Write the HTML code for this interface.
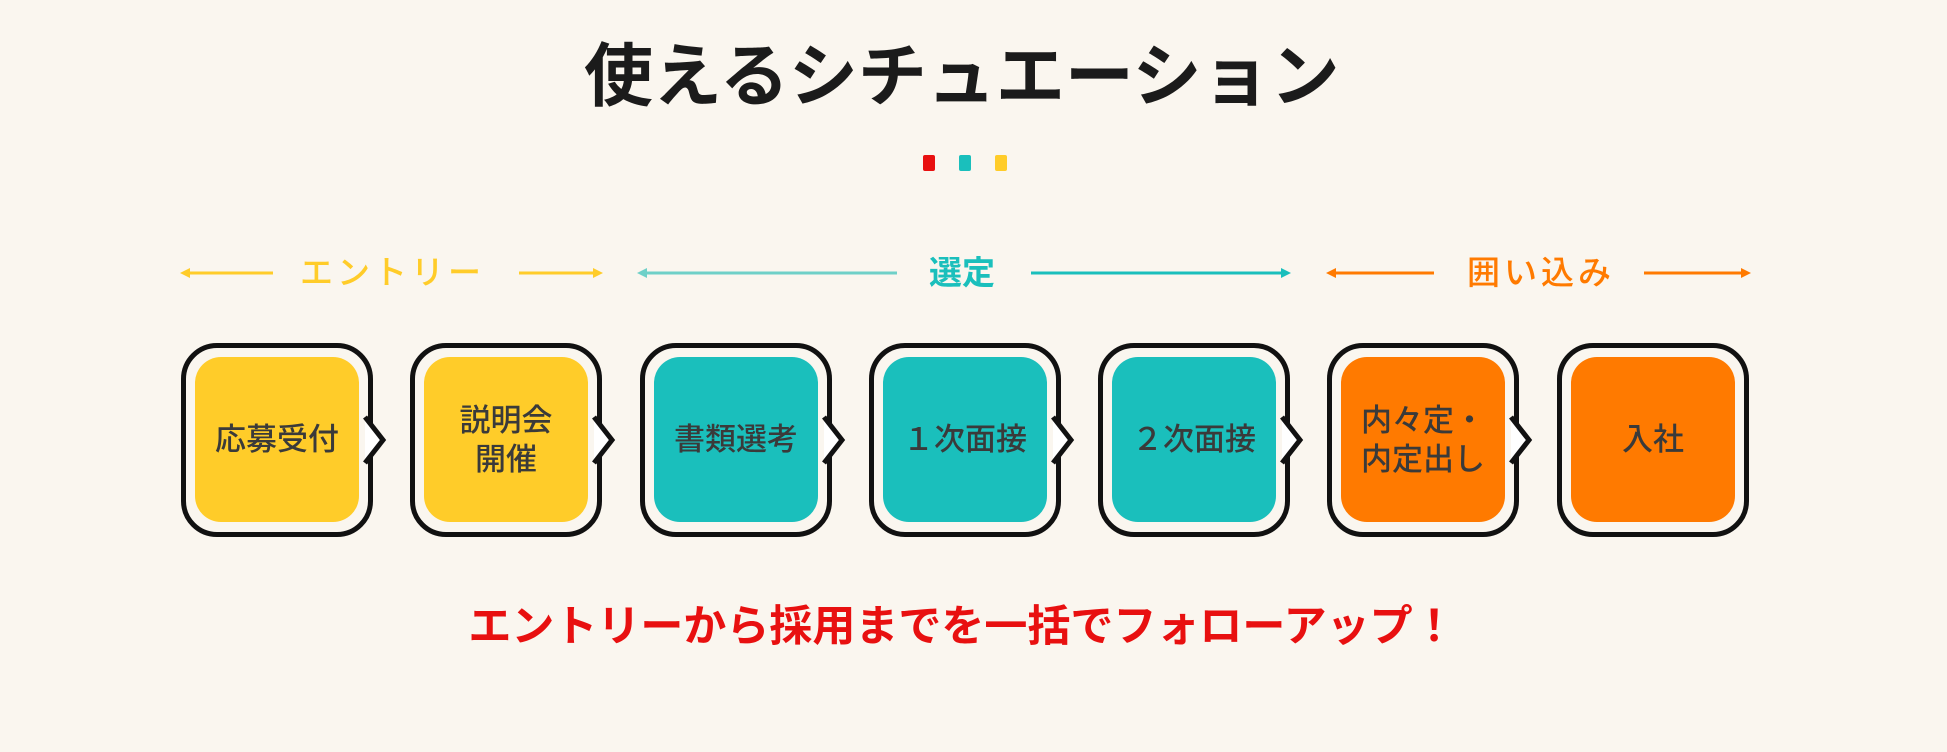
<!DOCTYPE html>
<html><head><meta charset="utf-8"><style>
html,body{margin:0;padding:0;}
body{width:1947px;height:752px;background:#faf6ef;position:relative;overflow:hidden;font-family:"Liberation Sans","Noto Sans CJK JP",sans-serif;}
.t{position:absolute;white-space:nowrap;}
.box{position:absolute;top:343px;width:182px;height:184px;border:5px solid #111;border-radius:36px;background:#faf6ef;}
.in{position:absolute;left:9px;top:9px;width:164px;height:165px;border-radius:26px;display:flex;align-items:center;justify-content:center;text-align:center;font-size:31px;line-height:39px;color:#3a3a3a;font-weight:500;}
.y{background:#ffcc29}.g{background:#1abfbc}.o{background:#ff7a00}
</style></head><body>
<div class="t" style="left:584px;top:34px;width:755px;text-align:center;font-size:69px;font-weight:bold;color:#1b1b1b;line-height:86px;">使えるシチュエーション</div>
<div style="position:absolute;left:923px;top:155px;width:12px;height:16px;background:#e81010;border-radius:2px"></div>
<div style="position:absolute;left:959px;top:155px;width:12px;height:16px;background:#1abfbc;border-radius:2px"></div>
<div style="position:absolute;left:995px;top:155px;width:12px;height:16px;background:#ffcc29;border-radius:2px"></div>

<svg style="position:absolute;left:0;top:0" width="1947" height="752">
<g stroke-width="3" fill="none">
<line x1="186" y1="273" x2="273" y2="273" stroke="#ffcc29"/><polygon points="180,273 190,268 190,278" fill="#ffcc29" stroke="none"/>
<line x1="519" y1="273" x2="597" y2="273" stroke="#ffcc29"/><polygon points="603,273 593,268 593,278" fill="#ffcc29" stroke="none"/>
<line x1="643" y1="273" x2="897" y2="273" stroke="#6fd0c8"/><polygon points="637,273 647,268 647,278" fill="#6fd0c8" stroke="none"/>
<line x1="1031" y1="273" x2="1285" y2="273" stroke="#1abfbc"/><polygon points="1291,273 1281,268 1281,278" fill="#1abfbc" stroke="none"/>
<line x1="1332" y1="273" x2="1434" y2="273" stroke="#ff7a00"/><polygon points="1326,273 1336,268 1336,278" fill="#ff7a00" stroke="none"/>
<line x1="1644" y1="273" x2="1745" y2="273" stroke="#ff7a00"/><polygon points="1751,273 1741,268 1741,278" fill="#ff7a00" stroke="none"/>
</g>
</svg>
<div class="t" style="left:300px;top:253px;font-size:33px;color:#ffcc29;line-height:40px;font-weight:500;letter-spacing:4px">エントリー</div>
<div class="t" style="left:929px;top:253px;font-size:33px;color:#1abfbc;line-height:40px;font-weight:bold">選定</div>
<div class="t" style="left:1467px;top:253px;font-size:33px;color:#ff7a00;line-height:40px;font-weight:500;letter-spacing:4px">囲い込み</div>

<div class="box" style="left:181px"><div class="in y">応募受付</div></div>
<div class="box" style="left:410px"><div class="in y">説明会<br>開催</div></div>
<div class="box" style="left:640px"><div class="in g">書類選考</div></div>
<div class="box" style="left:869px"><div class="in g">１次面接</div></div>
<div class="box" style="left:1098px"><div class="in g">２次面接</div></div>
<div class="box" style="left:1327px"><div class="in o">内々定・<br>内定出し</div></div>
<div class="box" style="left:1557px"><div class="in o">入社</div></div>

<svg style="position:absolute;left:0;top:0" width="1947" height="752">
<g fill="#fff" stroke="#111" stroke-width="5" stroke-linejoin="miter">
<polyline points="365,417 383,440 365,463"/>
<polyline points="594,417 612,440 594,463"/>
<polyline points="824,417 842,440 824,463"/>
<polyline points="1053,417 1071,440 1053,463"/>
<polyline points="1282,417 1300,440 1282,463"/>
<polyline points="1511,417 1529,440 1511,463"/>
</g>
</svg>

<div class="t" style="left:440px;top:602px;width:1044px;text-align:center;font-size:43px;font-weight:bold;color:#e81010;line-height:50px;">エントリーから採用までを一括でフォローアップ！</div>
</body></html>
